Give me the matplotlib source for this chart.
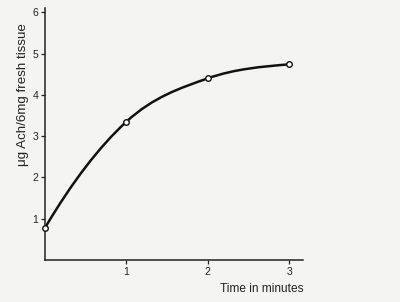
import numpy as np
import matplotlib
matplotlib.use("Agg")
import matplotlib.pyplot as plt
from matplotlib.path import Path
from matplotlib.patches import PathPatch

# data
time_min = [0, 1, 2, 3]
ach = [0.78, 3.35, 4.4, 4.74]
x_ticks = [1, 2, 3]
y_ticks = [1, 2, 3, 4, 5, 6]

plt.rcParams['font.family'] = ['Liberation Sans', 'DejaVu Sans']

paper = '#f4f4f2'
fig = plt.figure(figsize=(4.0, 3.02), dpi=100, facecolor=paper)
ax = fig.add_axes([0.1125, 0.139, 0.645, 0.834])
ax.set_facecolor(paper)

# smooth curve through the points (cubic bezier, catmull-rom tangents)
x = np.array(time_min, dtype=float)
y = np.array(ach, dtype=float)
m = np.zeros_like(y)
m[1:-1] = (y[2:] - y[:-2]) / (x[2:] - x[:-2])
m[0] = 2 * (y[1] - y[0]) / (x[1] - x[0]) - m[1]
m[-1] = 0.5 * (y[-1] - y[-2]) / (x[-1] - x[-2])
verts = [(x[0], y[0])]
codes = [Path.MOVETO]
for i in range(len(x) - 1):
    h = x[i + 1] - x[i]
    verts += [(x[i] + h / 3, y[i] + m[i] * h / 3),
              (x[i + 1] - h / 3, y[i + 1] - m[i + 1] * h / 3),
              (x[i + 1], y[i + 1])]
    codes += [Path.CURVE4] * 3
ax.add_patch(PathPatch(Path(verts, codes), fill=False, lw=1.8, color='#111111',
                       zorder=2, clip_on=False))

ax.plot(time_min, ach, 'o', ms=4, mfc='white', mec='#111111', mew=1.0,
        zorder=3, clip_on=False)

ax.set_xlim(0, 3.17)
ax.set_ylim(0, 6.1)
ax.set_xticks(x_ticks)
ax.set_yticks(y_ticks)
ax.tick_params(direction='out', length=3, width=0.9, labelsize=7.5,
               color='#222222', labelcolor='#222222', pad=2)
for side in ['top', 'right']:
    ax.spines[side].set_visible(False)
for side in ['left', 'bottom']:
    ax.spines[side].set_linewidth(1.1)
    ax.spines[side].set_color('#222222')

ax.text(3.17, -0.7, 'Time in minutes', ha='right', va='center',
        fontsize=8.6, color='#222222')
ax.text(-0.27, 4.0, 'μg Ach/6mg fresh tissue', rotation=90, ha='center',
        va='center', fontsize=9.6, color='#222222')

fig.savefig('out.png', dpi=100, facecolor=paper)
